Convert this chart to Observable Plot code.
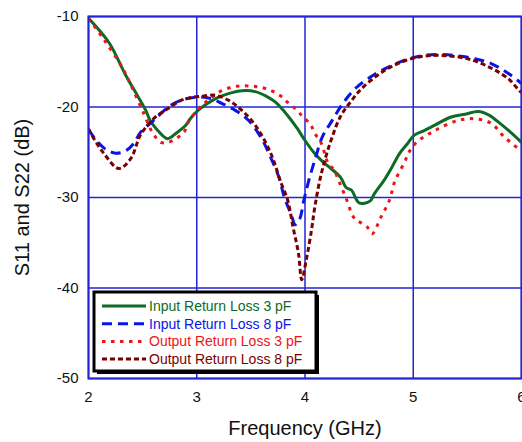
<!DOCTYPE html>
<html>
<head>
<meta charset="utf-8">
<script src="https://cdn.jsdelivr.net/npm/d3@7"></script>
<script src="https://cdn.jsdelivr.net/npm/@observablehq/plot@0.6"></script>
<style>
  html, body { margin: 0; padding: 0; background: #fff; }
  #chart { width: 522px; height: 442px; }
</style>
</head>
<body>
<div id="chart"></div>
<script>
// ---- data ----
const xTicks = [2, 3, 4, 5, 6];
const yTicks = [-50, -40, -30, -20, -10];

const in3F = [2.0,2.19,2.34,2.45,2.53,2.57,2.64,2.73,2.81,2.9,2.94,3.02,3.17,3.30,3.42,3.54,3.64,3.73,3.85,3.93,4.0,4.08,4.16,4.24,4.33,4.38,4.43,4.5,4.6,4.64,4.73,4.81,4.87,4.95,5.01,5.1,5.2,5.35,5.48,5.6,5.7,5.81,5.9,6.0];
const in3V = [-10.2,-12.9,-16.4,-18.7,-20.4,-21.5,-22.6,-23.5,-22.9,-22.0,-21.3,-20.3,-19.1,-18.5,-18.2,-18.3,-18.8,-19.5,-21.1,-22.4,-23.7,-25.0,-26.0,-26.8,-27.8,-28.9,-29.2,-30.6,-30.4,-29.6,-28.1,-26.5,-25.2,-24.0,-23.1,-22.6,-22.0,-21.1,-20.8,-20.5,-20.9,-21.9,-22.8,-23.9];

const in8F = [2.0,2.06,2.15,2.25,2.35,2.42,2.48,2.6,2.76,2.87,3.02,3.14,3.23,3.36,3.48,3.6,3.68,3.76,3.81,3.87,3.91,3.95,3.99,4.04,4.1,4.16,4.24,4.35,4.47,4.63,4.77,4.95,5.1,5.26,5.44,5.58,5.72,5.88,6.0];
const in8V = [-22.5,-23.5,-24.6,-25.1,-24.8,-24.0,-22.8,-21.5,-19.8,-19.2,-18.9,-19.1,-19.6,-20.4,-21.5,-23.5,-25.5,-27.8,-30.0,-31.8,-33.0,-32.4,-30.3,-27.9,-25.5,-23.3,-21.7,-19.6,-17.9,-16.5,-15.6,-14.7,-14.3,-14.2,-14.4,-14.7,-15.2,-16.3,-17.4];

const out3F = [2.0,2.14,2.31,2.40,2.51,2.59,2.67,2.74,2.88,2.93,3.05,3.14,3.23,3.37,3.51,3.65,3.79,3.84,3.93,3.98,4.05,4.09,4.15,4.21,4.27,4.31,4.38,4.45,4.49,4.57,4.62,4.70,4.78,4.83,4.92,4.96,5.03,5.2,5.41,5.57,5.72,5.84,5.97,6.0];
const out3V = [-10.2,-12.5,-15.6,-17.8,-20.7,-22.8,-23.9,-23.9,-22.8,-21.5,-19.8,-18.9,-18.2,-17.7,-17.7,-18.0,-18.9,-19.5,-20.4,-21.1,-21.9,-22.9,-24.0,-26.1,-27.0,-28.1,-30.1,-32.2,-32.6,-33.2,-34.0,-32.2,-30.3,-28.2,-26.1,-25.0,-23.9,-22.6,-21.5,-21.3,-21.8,-23.3,-24.6,-24.9];

const out8F = [2.0,2.03,2.14,2.28,2.39,2.48,2.6,2.73,2.85,2.93,3.05,3.17,3.30,3.42,3.54,3.64,3.71,3.77,3.84,3.89,3.94,3.97,4.01,4.06,4.09,4.15,4.24,4.33,4.43,4.52,4.67,4.82,5.04,5.26,5.51,5.72,5.88,5.98,6.0];
const out8V = [-22.4,-23.1,-25.1,-26.8,-25.7,-23.1,-21.3,-20.2,-19.3,-19.0,-18.8,-18.7,-19.3,-20.4,-22.0,-24.0,-25.9,-28.1,-30.3,-33.3,-36.2,-39.1,-37.0,-33.6,-31.1,-27.4,-23.7,-21.0,-19.3,-18.0,-16.5,-15.4,-14.5,-14.3,-14.7,-15.7,-16.9,-18.2,-18.4];

const seriesNames = ["Input Return Loss 3 pF", "Input Return Loss 8 pF", "Output Return Loss 3 pF", "Output Return Loss 8 pF"];

// ---- styles ----
const styles = [
  {color: "#0e6b26", dash: null},
  {color: "#0a14e6", dash: "10,6"},
  {color: "#ee1515", dash: "3.5,5.5"},
  {color: "#7a0000", dash: "5,3"}
];
const gridBlue = "#2424d6";

const toRows = (F, V) => F.map((f, i) => ({f, v: V[i]}));
const series = [toRows(in3F, in3V), toRows(in8F, in8V), toRows(out3F, out3V), toRows(out8F, out8V)];

const lineMarks = series.map((rows, i) => Plot.line(rows, {
  x: "f", y: "v", stroke: styles[i].color, strokeWidth: 3,
  strokeDasharray: styles[i].dash, curve: "catmull-rom", clip: true,
  strokeLinecap: "butt"
}));

const chart = Plot.plot({
  width: 522, height: 442,
  marginLeft: 88, marginRight: 1, marginTop: 16, marginBottom: 64,
  style: {fontFamily: "'Liberation Sans', Arial, sans-serif", background: "#fff", color: "#111"},
  x: {domain: [2, 6]},
  y: {domain: [-50, -10]},
  marks: [
    Plot.gridX(xTicks, {stroke: gridBlue, strokeOpacity: 1, strokeWidth: 1.5}),
    Plot.gridY(yTicks, {stroke: gridBlue, strokeOpacity: 1, strokeWidth: 1.5}),
    ...lineMarks,
    Plot.frame({stroke: gridBlue, strokeWidth: 2}),
    Plot.axisX(xTicks, {tickSize: 0, tickPadding: 13, fontSize: 15, label: null, tickFormat: d => String(d)}),
    Plot.axisY(yTicks, {tickSize: 0, tickPadding: 10, fontSize: 15, label: null, tickFormat: d => String(d)}),
    Plot.text(["Frequency (GHz)"], {frameAnchor: "bottom", dy: 50, lineAnchor: "middle", textAnchor: "middle", fontSize: 20, fill: "#111"}),
    Plot.text(["S11 and S22 (dB)"], {frameAnchor: "left", dx: -66, rotate: -90, textAnchor: "middle", lineAnchor: "middle", fontSize: 20, fill: "#111"})
  ]
});

document.getElementById("chart").appendChild(chart);

// ---- legend, drawn inside the plot area ----
const svg = d3.select(chart);
const lg = svg.append("g").attr("class", "legend").attr("text-anchor", "start");
const bx = 94, by = 292, bw = 222, bh = 79;
lg.append("rect").attr("x", bx + 3).attr("y", by + 3).attr("width", bw).attr("height", bh).attr("fill", "#000");
lg.append("rect").attr("x", bx).attr("y", by).attr("width", bw).attr("height", bh)
  .attr("fill", "#fff").attr("stroke", "#000").attr("stroke-width", 3);
seriesNames.forEach((name, i) => {
  const yy = by + 14 + i * 17.7;
  lg.append("line").attr("x1", 102).attr("x2", 146).attr("y1", yy).attr("y2", yy)
    .attr("stroke", styles[i].color).attr("stroke-width", 3)
    .attr("stroke-dasharray", styles[i].dash);
  lg.append("text").attr("x", 149).attr("y", yy).attr("dy", "0.36em")
    .attr("text-anchor", "start")
    .attr("fill", styles[i].color).attr("font-size", 14)
    .attr("font-family", "'Liberation Sans', Arial, sans-serif")
    .attr("textLength", null)
    .text(name);
});
</script>
</body>
</html>
